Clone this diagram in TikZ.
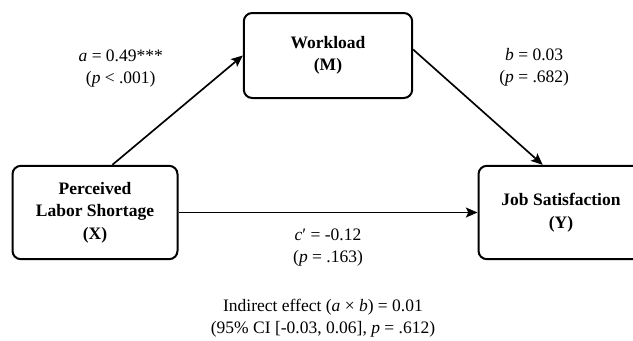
\documentclass[tikz,border=0pt]{standalone}
\usepackage{fontspec}
\setmainfont{Liberation Serif}
\usetikzlibrary{arrows.meta}
\usetikzlibrary{positioning}
\tikzset{var/.style={draw,line width=1.2pt,rounded corners=5pt,align=center,
   font=\fontsize{10.5}{13.5}\selectfont\bfseries,
   minimum width=99pt,minimum height=56pt}}
\tikzset{coef/.style={align=center,font=\fontsize{10.5}{13}\selectfont}}

\begin{document}
\begin{tikzpicture}[->,>={Stealth[length=7pt,width=6pt,inset=1.5pt]},line width=1pt,
                    x=0.6pt,y=-0.6pt]
   \useasboundingbox (0,0) rectangle (633,340);

   \node[var] (X) at (95,212.5) {Perceived\\Labor Shortage\\(X)};
   \node[var, minimum width=101pt, minimum height=51pt] (M) at (328,55.5) {Workload\\(M)};
   \node[var] (Y) at (561,212.5) {Job Satisfaction\\(Y)};

   \draw (X.70) -- node[coef, pos=0.5, above left=10pt and 5pt]
      {\textit{a} = 0.49***\\(\textit{p} < .001)} (M.west);
   \draw (M.4) -- node[coef, pos=0.5, above right=9pt and 9pt]
      {\textit{b} = 0.03\\(\textit{p} = .682)} (Y.111);
   \draw (X.east) -- node[coef, below=6pt] (cl)
      {\textit{c}′ = -0.12\\(\textit{p} = .163)} (Y.west);

   \node[coef] (ind) at (323,318)
      {Indirect effect (\textit{a} × \textit{b}) = 0.01\\(95\% CI [-0.03, 0.06], \textit{p} = .612)};
\end{tikzpicture}
\end{document}
